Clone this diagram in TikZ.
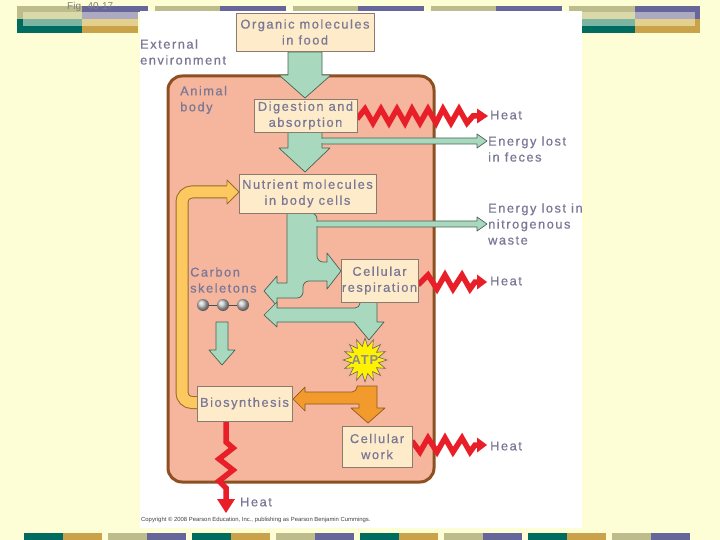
\documentclass[tikz,border=0pt]{standalone}
\usepackage{fontspec}
\setmainfont{Liberation Sans}
\newfontfamily\lbl[LetterSpace=12,FakeBold=0.6]{Liberation Sans}
\newfontfamily\lblb[LetterSpace=6]{Liberation Sans Bold}
\usetikzlibrary{shapes.geometric}
\definecolor{bg}{RGB}{254,254,214}
\definecolor{tanc}{RGB}{188,188,140}
\definecolor{purc}{RGB}{102,102,154}
\definecolor{creamc}{RGB}{217,217,170}
\definecolor{lavc}{RGB}{172,170,192}
\definecolor{teallt}{RGB}{125,181,162}
\definecolor{goldlt}{RGB}{227,208,143}
\definecolor{tealdk}{RGB}{0,107,95}
\definecolor{goldc}{RGB}{201,162,74}
\definecolor{labc}{RGB}{122,120,150}
\definecolor{boxf}{RGB}{253,235,201}
\definecolor{boxd}{RGB}{138,123,110}
\definecolor{bodyf}{RGB}{246,181,157}
\definecolor{bodyd}{RGB}{140,80,34}
\definecolor{grf}{RGB}{168,216,190}
\definecolor{grd}{RGB}{70,100,85}
\definecolor{heatc}{RGB}{232,30,40}
\definecolor{orf}{RGB}{243,154,44}
\definecolor{ord}{RGB}{138,90,32}
\definecolor{gdf}{RGB}{253,200,96}
\definecolor{gdd}{RGB}{150,110,40}
\definecolor{atpf}{RGB}{255,242,0}
\tikzset{
  lab/.style={font=\lbl\fontsize{12.8}{16}\selectfont, text=labc, align=left, inner sep=0, anchor=west},
  box/.style={draw=boxd, fill=boxf, line width=0.9, inner sep=0, font=\lbl\fontsize{12.8}{16}\selectfont, text=labc, align=center},
  gr/.style={fill=grf, draw=grd, line width=0.7, line join=round},
  orsh/.style={fill=orf, draw=ord, line width=0.7, line join=round},
  heat/.style={draw=heatc, line width=5.5, line join=miter, miter limit=10},
}
\begin{document}
\begin{tikzpicture}[x=1pt,y=-1pt]
\useasboundingbox (0,0) rectangle (720,540);
\fill[bg] (0,0) rectangle (720,540);
% left header block
\fill[tanc] (17,6) rectangle (82,19);
\fill[purc] (82,6) rectangle (148,12);
\fill[tealdk] (17,19) rectangle (82,33);
\fill[goldc] (82,12) rectangle (138,33);
\fill[creamc] (23,12) rectangle (82,19);
\fill[lavc] (82,12) rectangle (138,19);
\fill[teallt] (23,19) rectangle (82,26);
\fill[goldlt] (82,19) rectangle (138,26);
% right header block
\fill[tanc] (569,6) rectangle (635,12);
\fill[purc] (635,6) rectangle (700,19);
\fill[tealdk] (575,19) rectangle (635,33);
\fill[goldc] (635,19) rectangle (700,33);
\fill[creamc] (575,12) rectangle (635,19);
\fill[lavc] (635,12) rectangle (695,19);
\fill[teallt] (575,19) rectangle (635,26);
\fill[goldlt] (635,19) rectangle (695,26);
% white panel
\fill[white] (140,11) rectangle (582,528);
% top bars
\foreach \x in {155,293,431}{
  \fill[tanc] (\x,6) rectangle (\x+65,11);
  \fill[purc] (\x+65,6) rectangle (\x+131,11);
}
% bottom bars
\foreach \x in {24,192,360,528}{
  \fill[tealdk] (\x,533) rectangle (\x+39,540);
  \fill[goldc] (\x+39,533) rectangle (\x+78,540);
}
\foreach \x in {108,276,444,612}{
  \fill[tanc] (\x,533) rectangle (\x+39,540);
  \fill[purc] (\x+39,533) rectangle (\x+78,540);
}
\node[anchor=west, font=\fontsize{10}{11}\selectfont, text=gray, inner sep=0] (fig) at (67,7) {Fig. 40-17};
% animal body
\draw[fill=bodyf, draw=bodyd, line width=3, rounded corners=14] (168,76) rectangle (434,482);
% gold arrow (biosynthesis -> nutrients)
\draw[line width=13, draw=gdd, rounded corners=10] (205,402.5) -- (182,402.5) -- (182,192) -- (230,192);
\draw[line width=11, draw=gdf, rounded corners=10] (205,402.5) -- (182,402.5) -- (182,192) -- (230,192);
\fill[gdf] (227,180) -- (239,192) -- (227,204) -- cycle;
\draw[gdd, line width=0.8, line join=round] (227,185.5) -- (227,180) -- (239,192) -- (227,204) -- (227,198.5);
% thin green arrows
\path[gr] (316,138) -- (477,138) -- (477,134) -- (487,141) -- (477,148) -- (477,144) -- (316,144) -- cycle;
\path[gr] (314,221) -- (477,221) -- (477,217) -- (487,224) -- (477,231) -- (477,227) -- (314,227) -- cycle;
% green arrows
\path[gr] (288,52) -- (322,52) -- (322,75) -- (331,75) -- (305,98) -- (279,75) -- (288,75) -- cycle;
\path[gr] (288,132) -- (322,132) -- (322,148) -- (330,148) -- (305,172) -- (279,148) -- (288,148) -- cycle;
\fill[grf] (321.3,138.7) rectangle (324,143.3);
\path[gr] (287,213) -- (287,283) -- (277,283) -- (277,276) -- (264,291) -- (277,306) -- (277,298) [rounded corners=6] -- (303,298) -- (303,281) [sharp corners] -- (327,281) -- (327,289) -- (341,271) -- (327,253) -- (327,262) [rounded corners=6] -- (317,262) -- (317,213) [sharp corners] -- cycle;
\fill[grf] (316.3,221.7) rectangle (319,226.3);
\path[gr] (360,301) -- (377,301) -- (377,322) -- (384,322) -- (369,340) -- (354,322) -- (277,322) -- (277,327) -- (264,315) -- (277,302) -- (277,308) [rounded corners=5] -- (360,308) [sharp corners] -- cycle;
\path[gr] (216,322) -- (228,322) -- (228,350) -- (235,350) -- (222,365) -- (209,350) -- (216,350) -- cycle;
% orange arrows
\path[orsh] (357,386) -- (377,386) -- (377,408) -- (385,408) -- (368,423) -- (351,408) -- (359,408) -- (359,404) -- (305,404) -- (305,411) -- (293,399) -- (305,387) -- (305,392) [rounded corners=5] -- (357,392) [sharp corners] -- cycle;
% carbon skeleton balls
\draw[gray!60!black, line width=0.8] (203,305) -- (243,305);
\foreach \x in {203,223,243}{ \shade[ball color=gray!45] (\x,305) circle (6); }
% heat zigzags
\draw[heat] (357,119) -- (365,109) -- (373,123) -- (381,109) -- (389,123) -- (397,109) -- (405,123) -- (412,109) -- (420,123) -- (428,109) -- (436,123) -- (443,109) -- (451,123) -- (459,109) -- (467,123) -- (473,116) -- (479,116);
\fill[heatc] (477,108.5) -- (488,116) -- (477,123.5) -- cycle;
\draw[heat] (418,285) -- (428,275) -- (437,289) -- (445,275) -- (453,289) -- (462,275) -- (470,289) -- (475,282) -- (479,282);
\fill[heatc] (477,274.5) -- (487,282) -- (477,289.5) -- cycle;
\draw[heat] (412,441) -- (420,452) -- (428,438) -- (437,452) -- (445,438) -- (453,452) -- (462,438) -- (470,452) -- (475,445) -- (479,445);
\fill[heatc] (477,437.5) -- (487,445) -- (477,452.5) -- cycle;
\draw[heat] (226,421) -- (226,442) -- (233,448) -- (219,459) -- (233,470) -- (219,481) -- (226,488) -- (226,501);
\fill[heatc] (217,499) -- (226,513) -- (235,499) -- cycle;
% ATP
\node[star, star points=16, star point ratio=1.6, minimum size=44, inner sep=0, fill=atpf, draw=black!60, line width=0.6] (atpstar) at (365,360) {};
\node[font=\lblb\fontsize{13}{14}\selectfont, text=black!45, inner sep=0] (atp) at (365,360) {ATP};
% boxes
\node[box, minimum width=138, minimum height=38] (food) at (305,32) {Organic molecules\\in food};
\node[box, minimum width=103, minimum height=33] (dig) at (305.5,115.5) {Digestion and\\absorption};
\node[box, minimum width=137, minimum height=39] (nut) at (307.5,193.5) {Nutrient molecules\\in body cells};
\node[box, minimum width=77, minimum height=43] (resp) at (379.5,280.5) {Cellular\\respiration};
\node[box, minimum width=95, minimum height=35] (bio) at (244.5,403.5) {Biosynthesis};
\node[box, minimum width=70, minimum height=41] (work) at (377,446.5) {Cellular\\work};
% labels
\node[lab] (ext) at (140,52) {External\\environment};
\node[lab] (body) at (180,100) {Animal\\body};
\node[lab] (h1) at (490,115) {Heat};
\node[lab] (feces) at (488,149) {Energy lost\\in feces};
\node[lab] (nitro) at (488,224) {Energy lost in\\nitrogenous\\waste};
\node[lab] (carb) at (190,280) {Carbon\\skeletons};
\node[lab] (h2) at (490,281) {Heat};
\node[lab] (h3) at (490,446) {Heat};
\node[lab] (h4) at (240,502) {Heat};
\node[anchor=west, font=\fontsize{5.9}{6.5}\selectfont, text=black!75, inner sep=0] (copy) at (141,520) {Copyright \textcopyright{} 2008 Pearson Education, Inc., publishing as Pearson Benjamin Cummings.};
\end{tikzpicture}
\end{document}
